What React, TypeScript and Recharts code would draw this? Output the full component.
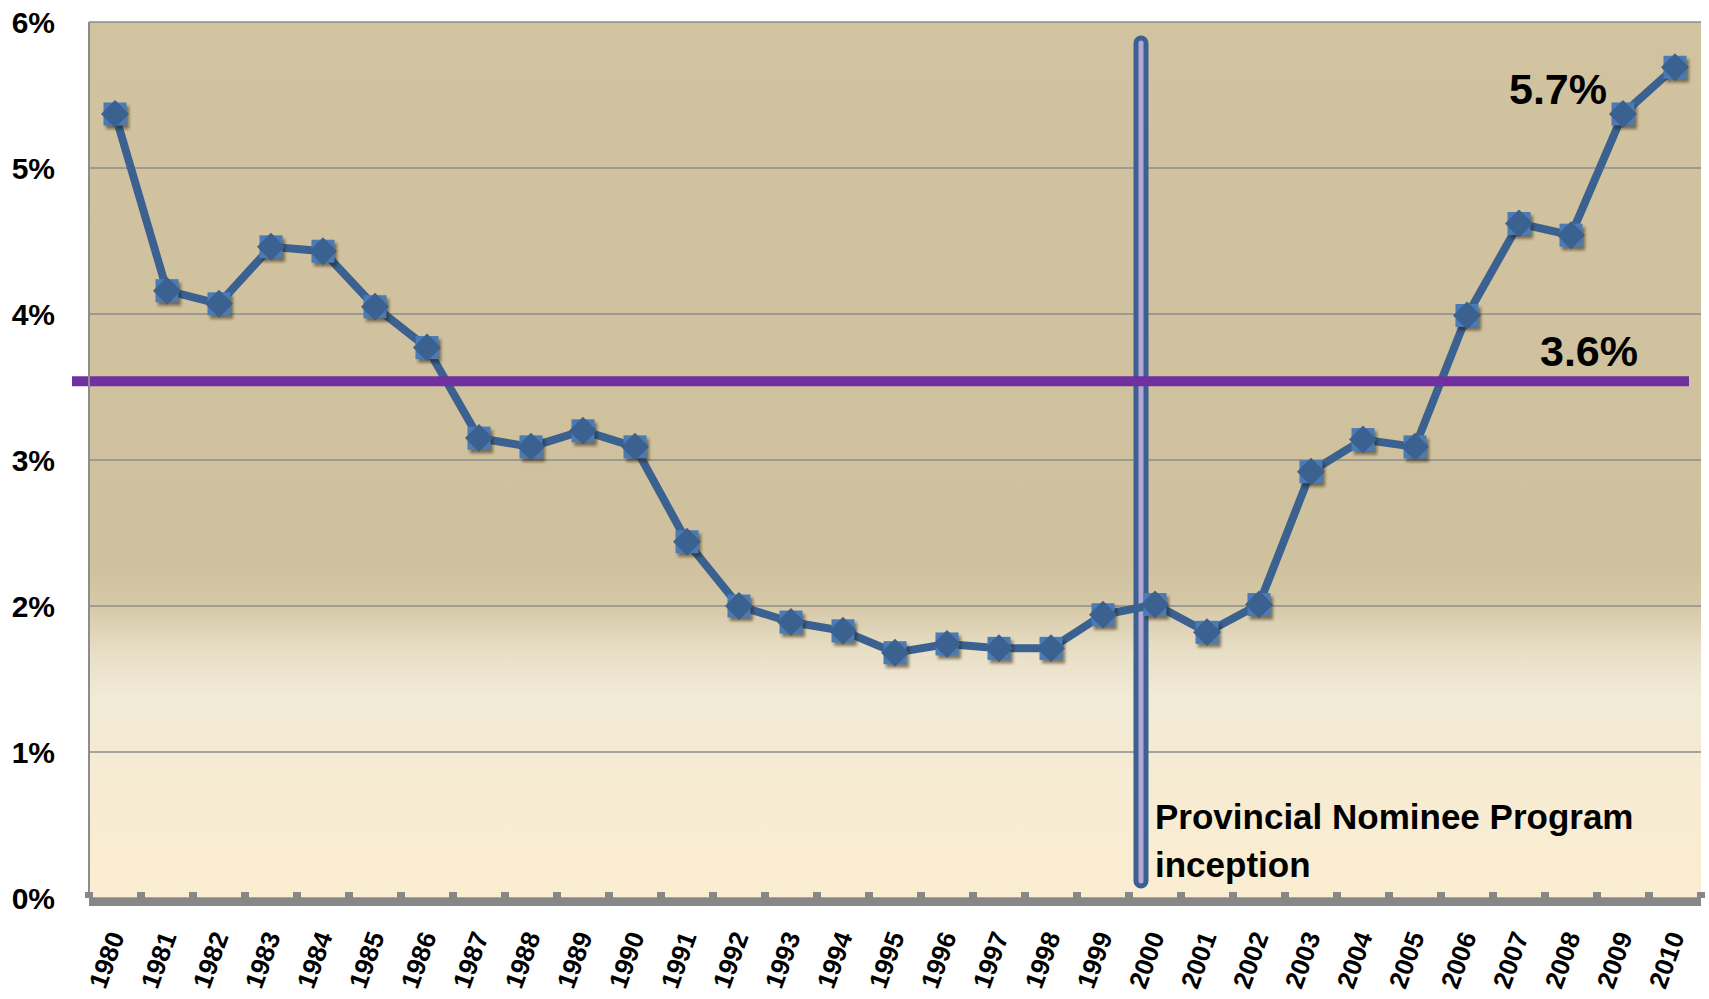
import React from "react";
import {
  LineChart,
  Line,
  XAxis,
  YAxis,
  CartesianGrid,
  ReferenceLine,
  LabelList,
} from "recharts";

const years = [
  "1980", "1981", "1982", "1983", "1984", "1985", "1986", "1987", "1988", "1989",
  "1990", "1991", "1992", "1993", "1994", "1995", "1996", "1997", "1998", "1999",
  "2000", "2001", "2002", "2003", "2004", "2005", "2006", "2007", "2008", "2009",
  "2010",
];

const rates = [
  5.37, 4.16, 4.07, 4.46, 4.43, 4.05, 3.77, 3.15, 3.09, 3.2,
  3.09, 2.44, 2.0, 1.89, 1.83, 1.68, 1.74, 1.71, 1.71, 1.94,
  2.01, 1.82, 2.01, 2.92, 3.14, 3.09, 3.99, 4.62, 4.54, 5.37,
  5.69,
];

const yTicks = [0, 1, 2, 3, 4, 5, 6];
const averageRate = 3.54;
const averageLabel = "3.6%";
const latestLabel = "5.7%";
const programYear = "2000";
const programLabel = ["Provincial Nominee Program", "inception"];

const data = years.map((year, i) => ({ year, rate: rates[i] }));

const W = 1709;
const H = 999;
const FONT = '"Liberation Sans", Arial, sans-serif';
const BAND = (W - 8 - 89) / years.length;

const Marker = (props: any) => {
  const { cx, cy } = props;
  if (cx == null || cy == null) return null;
  return (
    <g>
      <rect x={cx - 9} y={cy - 8} width={23} height={23} fill="rgba(30,20,0,0.5)" filter="url(#soft)" />
      <rect x={cx - 11.5} y={cy - 11.5} width={23} height={23} fill="#4a7bb7" />
      <polygon
        points={`${cx},${cy - 14} ${cx + 14},${cy} ${cx},${cy + 14} ${cx - 14},${cy}`}
        fill="#3a6190"
      />
    </g>
  );
};

const XTick = (props: any) => {
  const { x, y, payload, index } = props;
  const left = x - BAND / 2;
  return (
    <g>
      <rect x={left - 4} y={y - 6} width={8} height={6} fill="#878787" />
      {index === years.length - 1 && (
        <rect x={left + BAND - 4} y={y - 6} width={8} height={6} fill="#878787" />
      )}
      <text
        transform={`translate(${x + 10},${y + 38}) rotate(-70)`}
        textAnchor="end"
        fontFamily={FONT}
        fontWeight="bold"
        fontSize={26}
        fill="#000"
      >
        {payload.value}
      </text>
    </g>
  );
};

const AverageLine = (props: any) => {
  const { x1, y1, x2, y2 } = props;
  return (
    <g>
      <line x1={x1 - 17} y1={y1} x2={x2 - 12} y2={y2} stroke="#7030a0" strokeWidth={10} />
      <text
        x={x2 - 63}
        y={y1 - 15}
        textAnchor="end"
        fontFamily={FONT}
        fontWeight="bold"
        fontSize={43}
        fill="#000"
      >
        {averageLabel}
      </text>
    </g>
  );
};

const ProgramBar = (props: any) => {
  const x = props.x1 - 14;
  const top = Math.min(props.y1, props.y2);
  const bottom = Math.max(props.y1, props.y2);
  return (
    <g>
      <rect
        x={x - 5}
        y={top + 16}
        width={10}
        height={bottom - top - 28}
        rx={5}
        fill="#b4a7d6"
        stroke="#3a6190"
        strokeWidth={5}
      />
      {programLabel.map((line, i) => (
        <text
          key={line}
          x={x + 14}
          y={bottom - 69 + i * 48}
          fontFamily={FONT}
          fontWeight="bold"
          fontSize={35}
          fill="#000"
        >
          {line}
        </text>
      ))}
    </g>
  );
};

const LatestLabel = (props: any) => {
  const { x, y, index } = props;
  if (index !== rates.length - 1) return null;
  return (
    <text
      x={x - 68}
      y={y + 37}
      textAnchor="end"
      fontFamily={FONT}
      fontWeight="bold"
      fontSize={43}
      fill="#000"
    >
      {latestLabel}
    </text>
  );
};

export default function App() {
  return (
    <div style={{ position: "absolute", left: 0, top: 0, background: "#fff" }}>
      <LineChart
        width={W}
        height={H}
        data={data}
        margin={{ top: 22, right: 8, left: 0, bottom: 0 }}
      >
        <defs>
          <linearGradient id="bgGrad" x1="0" y1="0" x2="0" y2="1">
            <stop offset="0" stopColor="#d1c39f" />
            <stop offset="0.62" stopColor="#cfc19d" />
            <stop offset="0.667" stopColor="#d6c9a8" />
            <stop offset="0.72" stopColor="#e8dfc7" />
            <stop offset="0.77" stopColor="#f1ead6" />
            <stop offset="0.86" stopColor="#f6ebd3" />
            <stop offset="1" stopColor="#fbedd1" />
          </linearGradient>
          <filter id="soft" x="-50%" y="-50%" width="200%" height="200%">
            <feGaussianBlur stdDeviation="1.5" />
          </filter>
        </defs>
        <CartesianGrid
          vertical={false}
          stroke="#8c8c8c"
          strokeWidth={1.5}
          fill="url(#bgGrad)"
          fillOpacity={1}
        />
        <XAxis
          dataKey="year"
          scale="band"
          interval={0}
          height={101}
          tickSize={0}
          tickMargin={0}
          tickLine={false}
          axisLine={{ stroke: "#878787", strokeWidth: 8, transform: "translate(0,4)" }}
          tick={<XTick />}
        />
        <YAxis
          width={89}
          domain={[0, 6]}
          ticks={yTicks}
          tickFormatter={(v) => `${v}%`}
          tickSize={0}
          tickMargin={34}
          tickLine={false}
          axisLine={{ stroke: "#8c8c8c", strokeWidth: 2 }}
          tick={{ fontFamily: FONT, fontWeight: "bold", fontSize: 30, fill: "#000" }}
        />
        <ReferenceLine x={programYear} shape={<ProgramBar />} ifOverflow="visible" />
        <Line
          dataKey="rate"
          stroke="#3a6190"
          strokeWidth={8}
          dot={<Marker />}
          activeDot={false}
          isAnimationActive={false}
        >
          <LabelList dataKey="rate" content={<LatestLabel />} />
        </Line>
        <ReferenceLine y={averageRate} shape={<AverageLine />} ifOverflow="visible" />
      </LineChart>
    </div>
  );
}
